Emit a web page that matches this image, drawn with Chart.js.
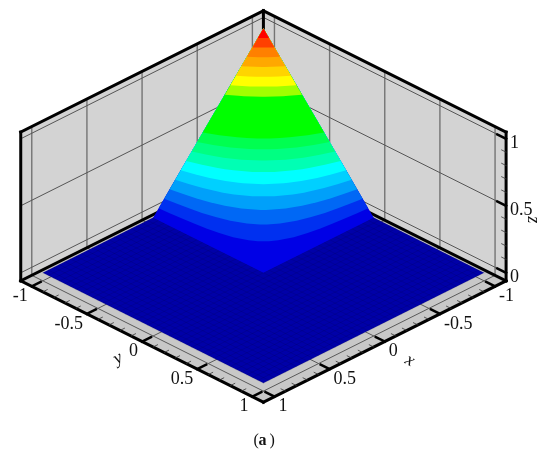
<!DOCTYPE html>
<html>
<head>
<meta charset="utf-8">
<style>
  body { margin: 0; background: #fff; }
  #surface { display: block; }
</style>
<script src="https://cdn.jsdelivr.net/npm/chart.js@4/dist/chart.umd.min.js"></script>
</head>
<body>
<canvas id="surface" width="550" height="457"></canvas>
<script>
// surface heights on the grid (rest of the square is flat at 0)
const gridX = [-1, -0.9, -0.8, -0.7, -0.6, -0.5, -0.4, -0.3, -0.2, -0.1, 0];
const gridY = [-1, -0.9, -0.8, -0.7, -0.6, -0.5, -0.4, -0.3, -0.2, -0.1, 0];
const gridZ = [
    [1, 0.9, 0.8, 0.7, 0.6, 0.5, 0.4, 0.3, 0.2, 0.1, 0],
    [0.9, 0.81, 0.72, 0.63, 0.54, 0.45, 0.36, 0.27, 0.18, 0.09, 0],
    [0.8, 0.72, 0.64, 0.56, 0.48, 0.4, 0.32, 0.24, 0.16, 0.08, 0],
    [0.7, 0.63, 0.56, 0.49, 0.42, 0.35, 0.28, 0.21, 0.14, 0.07, 0],
    [0.6, 0.54, 0.48, 0.42, 0.36, 0.3, 0.24, 0.18, 0.12, 0.06, 0],
    [0.5, 0.45, 0.4, 0.35, 0.3, 0.25, 0.2, 0.15, 0.1, 0.05, 0],
    [0.4, 0.36, 0.32, 0.28, 0.24, 0.2, 0.16, 0.12, 0.08, 0.04, 0],
    [0.3, 0.27, 0.24, 0.21, 0.18, 0.15, 0.12, 0.09, 0.06, 0.03, 0],
    [0.2, 0.18, 0.16, 0.14, 0.12, 0.1, 0.08, 0.06, 0.04, 0.02, 0],
    [0.1, 0.09, 0.08, 0.07, 0.06, 0.05, 0.04, 0.03, 0.02, 0.01, 0],
    [0, 0, 0, 0, 0, 0, 0, 0, 0, 0, 0]
];

// contour bands, lowest first
const bandLevels = [0, 0.05, 0.1, 0.15, 0.2, 0.25, 0.3, 0.35, 0.4, 0.45, 0.65, 0.7, 0.75, 0.8, 0.85, 0.9, 0.95];
const bandColors = ['#0000e6', '#0030f0', '#0068f5', '#00a0fa', '#00d0ff', '#00ffff', '#00ffb4', '#00ff82', '#00ff50',
    '#00ff00', '#a0ff00', '#ffff00', '#ffd400', '#ffa800', '#ff8000', '#ff4000', '#ff0000'];
const floorColor = '#0000a8';

const majorTicks = [-1, -0.5, 0, 0.5, 1];
const minorTicks = [-0.9, -0.8, -0.7, -0.6, -0.4, -0.3, -0.2, -0.1, 0.1, 0.2, 0.3, 0.4, 0.6, 0.7, 0.8, 0.9];
const zMajorTicks = [0, 0.5, 1];
const zMinorTicks = [0.1, 0.2, 0.3, 0.4, 0.6, 0.7, 0.8, 0.9];
const tickLabels = ['-1', '-0.5', '0', '0.5', '1'];
const zTickLabels = ['0', '0.5', '1'];
const meshLines = [-0.95, -0.85, -0.75, -0.65, -0.55, -0.45, -0.35, -0.25, -0.15, -0.05, 0.05, 0.15, 0.25, 0.35, 0.45, 0.55, 0.65, 0.75, 0.85, 0.95,
    -1, -0.9, -0.8, -0.7, -0.6, -0.5, -0.4, -0.3, -0.2, -0.1, 0, 0.1, 0.2, 0.3, 0.4, 0.5, 0.6, 0.7, 0.8, 0.9, 1];

// box limits
const lo = -1.1, hi = 1.1, zLo = -0.06, zHi = 1.05;

// isometric view: screen axes are y-x and x+y
const zScale = 1.215;
function proj(x, y, z) {
    return { x: y - x, y: -(x + y) / 2 + z * zScale };
}

const datasets = [];

function poly(points, color) {
    datasets.push({
        data: points,
        showLine: true,
        fill: 'shape',
        backgroundColor: color,
        borderWidth: 0,
        pointRadius: 0,
        tension: 0
    });
}

function line(a, b, color, width) {
    datasets.push({
        data: [a, b],
        showLine: true,
        fill: false,
        borderColor: color,
        borderWidth: width,
        borderCapStyle: 'square',
        pointRadius: 0,
        tension: 0
    });
}

// region z >= level, walled by crossings on grid rows and columns
function bandPolygon(level) {
    const pts = [];
    for (let j = 0; j < gridY.length; j++) {
        for (let i = 0; i < gridX.length - 1; i++) {
            const a = gridZ[j][i], b = gridZ[j][i + 1];
            if (a > level && b <= level) {
                const t = (a - level) / (a - b);
                pts.push({ x: gridX[i] + t * (gridX[i + 1] - gridX[i]), y: gridY[j] });
            }
        }
    }
    for (let i = 0; i < gridX.length; i++) {
        for (let j = 0; j < gridY.length - 1; j++) {
            const a = gridZ[j][i], b = gridZ[j + 1][i];
            if (a > level && b <= level) {
                const t = (a - level) / (a - b);
                pts.push({ x: gridX[i], y: gridY[j] + t * (gridY[j + 1] - gridY[j]) });
            }
        }
    }
    if (level === 0) pts.push({ x: gridX[gridX.length - 1], y: gridY[gridY.length - 1] });
    pts.sort((p, q) => (p.y - p.x) - (q.y - q.x));
    const out = pts.map(p => proj(p.x, p.y, level));
    out.push(proj(gridX[0], gridY[0], gridZ[0][0]));
    return out;
}

// walls and floor of the box
poly([proj(hi, lo, zLo), proj(lo, lo, zLo), proj(lo, lo, zHi), proj(hi, lo, zHi)], '#d3d3d3');
poly([proj(lo, hi, zLo), proj(lo, lo, zLo), proj(lo, lo, zHi), proj(lo, hi, zHi)], '#d3d3d3');
poly([proj(hi, hi, zLo), proj(hi, lo, zLo), proj(lo, lo, zLo), proj(lo, hi, zLo)], '#c8c8c8');

// grid on walls and floor
majorTicks.forEach(t => {
    line(proj(t, lo, zLo), proj(t, lo, zHi), '#747474', 1.4);
    line(proj(lo, t, zLo), proj(lo, t, zHi), '#747474', 1.4);
    line(proj(t, lo, zLo), proj(t, hi, zLo), '#5a5a5a', 1);
    line(proj(lo, t, zLo), proj(hi, t, zLo), '#5a5a5a', 1);
});
zMajorTicks.forEach(z => {
    line(proj(hi, lo, z), proj(lo, lo, z), '#555555', 1);
    line(proj(lo, hi, z), proj(lo, lo, z), '#555555', 1);
});

// box edges hidden behind the surface come first
line(proj(hi, lo, zLo), proj(lo, lo, zLo), '#000000', 3);
line(proj(lo, hi, zLo), proj(lo, lo, zLo), '#000000', 3);
line(proj(lo, lo, zLo), proj(lo, lo, zHi), '#000000', 3);
line(proj(hi, lo, zHi), proj(lo, lo, zHi), '#000000', 3);
line(proj(lo, hi, zHi), proj(lo, lo, zHi), '#000000', 3);
line(proj(hi, lo, zLo), proj(hi, lo, zHi), '#000000', 3);
line(proj(lo, hi, zLo), proj(lo, hi, zHi), '#000000', 3);

// flat part of the surface with its mesh
poly([proj(1, 1, 0), proj(1, -1, 0), proj(-1, -1, 0), proj(-1, 1, 0)], floorColor);
meshLines.forEach(m => {
    line(proj(m, -1, 0), proj(m, 1, 0), 'rgba(0,0,50,0.22)', 0.6);
    line(proj(-1, m, 0), proj(1, m, 0), 'rgba(0,0,50,0.22)', 0.6);
});

// raised part, painted band over band
bandLevels.forEach((level, i) => poly(bandPolygon(level), bandColors[i]));

// front edges and axis ticks
line(proj(hi, lo, zLo), proj(hi, hi, zLo), '#000000', 3);
line(proj(lo, hi, zLo), proj(hi, hi, zLo), '#000000', 3);
majorTicks.forEach(t => {
    line(proj(hi, t, zLo), proj(hi - 0.08, t, zLo), '#000000', 2.5);
    line(proj(t, hi, zLo), proj(t, hi - 0.08, zLo), '#000000', 2.5);
});
minorTicks.forEach(t => {
    line(proj(hi, t, zLo), proj(hi - 0.04, t, zLo), '#333333', 0.8);
    line(proj(t, hi, zLo), proj(t, hi - 0.04, zLo), '#333333', 0.8);
});
zMajorTicks.forEach(z => line(proj(lo, hi, z), proj(lo, hi - 0.08, z), '#000000', 2.5));
zMinorTicks.forEach(z => line(proj(lo, hi, z), proj(lo, hi - 0.04, z), '#333333', 0.8));

// first dataset has to end up on the bottom
datasets.reverse();

const textPlugin = {
    id: 'boxText',
    afterDraw(chart) {
        const { ctx, scales } = chart;
        const put = (text, p, dx, dy, align, font, angle) => {
            ctx.save();
            ctx.translate(scales.x.getPixelForValue(p.x) + dx, scales.y.getPixelForValue(p.y) + dy);
            if (angle) ctx.rotate(angle);
            ctx.font = font;
            ctx.fillStyle = '#111';
            ctx.textAlign = align;
            ctx.textBaseline = 'middle';
            ctx.fillText(text, 0, 0);
            ctx.restore();
        };
        const tickFont = '18px "Liberation Serif"';
        const nameFont = 'italic 18px "Liberation Serif"';
        majorTicks.forEach((t, i) => {
            put(tickLabels[i], proj(hi, t, zLo), -4, 10, 'right', tickFont);
            put(tickLabels[i], proj(t, hi, zLo), 4, 10, 'left', tickFont);
        });
        zMajorTicks.forEach((z, i) => put(zTickLabels[i], proj(lo, hi, z), 4, 4, 'left', tickFont));
        put('y', proj(hi, 0, zLo), -24, 17, 'center', nameFont, -0.5);
        put('x', proj(0, hi, zLo), 25, 19, 'center', nameFont, 0.5);
        put('z', proj(lo, hi, 0.5), 27, 14, 'center', nameFont, Math.PI / 2);
        // panel caption
        const cap = proj(hi, hi, zLo);
        ctx.save();
        ctx.fillStyle = '#111';
        ctx.textBaseline = 'middle';
        ctx.textAlign = 'left';
        const cx = scales.x.getPixelForValue(cap.x), cy = scales.y.getPixelForValue(cap.y) + 39;
        ctx.font = '16px "Liberation Serif"';
        ctx.fillText('(', cx - 10, cy);
        ctx.fillText(')', cx + 6, cy);
        ctx.font = 'bold 16px "Liberation Serif"';
        ctx.fillText('a', cx - 5, cy);
        ctx.restore();
    }
};

new Chart(document.getElementById('surface').getContext('2d'), {
    type: 'scatter',
    data: { datasets: datasets },
    options: {
        responsive: false,
        animation: false,
        clip: false,
        layout: { padding: 0 },
        plugins: { legend: { display: false }, tooltip: { enabled: false } },
        scales: {
            x: { type: 'linear', display: false, min: -2.388, max: 2.598 },
            y: { type: 'linear', display: false, min: -1.670, max: 2.473 }
        }
    },
    plugins: [textPlugin]
});
</script>
</body>
</html>
